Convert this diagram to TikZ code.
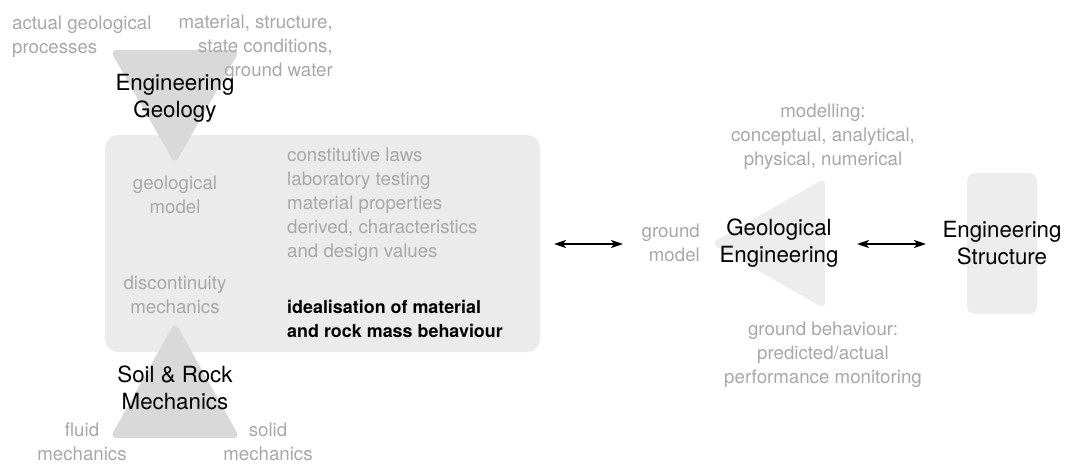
\documentclass[tikz,border=0pt]{standalone}
\usepackage{fontspec}
\setmainfont{TeX Gyre Heros}
\usetikzlibrary{arrows.meta}
\definecolor{boxgray}{HTML}{EBEBEB}
\definecolor{trigray}{HTML}{D9D9D9}
\definecolor{ltgray}{HTML}{EDEDED}
\definecolor{txtgray}{HTML}{A8A8A8}
\tikzset{
  lbl/.style={inner sep=0pt, text=txtgray, font=\fontsize{18.7}{24}\selectfont},
  ttl/.style={inner sep=0pt, text=black, font=\fontsize{22.3}{27}\selectfont, align=center},
  bld/.style={inner sep=0pt, text=black, font=\fontsize{17.9}{24}\selectfont\bfseries, align=left},
  arr/.style={{Stealth[length=12pt,width=8pt,inset=3pt]}-{Stealth[length=12pt,width=8pt,inset=3pt]}, line width=1.8pt, black},
}
\begin{document}
\begin{tikzpicture}[x=1pt,y=-1pt]
\useasboundingbox (0,0) rectangle (1072,466);
% main box
\node[fill=boxgray, rounded corners=13pt, minimum width=435pt, minimum height=217pt, inner sep=0pt] (box) at (322.5,243.5) {};
% triangles
\fill[trigray, rounded corners=7pt] (110,50) -- (240,50) -- (175,164) -- cycle;
\fill[trigray, rounded corners=7pt] (110,438) -- (240,438) -- (175,322) -- cycle;
\fill[ltgray, rounded corners=7pt] (825,178) -- (825,309) -- (711,243.5) -- cycle;
\node[fill=ltgray, rounded corners=8pt, minimum width=70pt, minimum height=141pt, inner sep=0pt] (sbox) at (1002,243.5) {};

% texts top-left
\node[lbl, anchor=west, align=left] (agp) at (12,37) {actual geological\\processes};
\node[lbl, anchor=east, align=right] (msc) at (333,48) {material, structure,\\state conditions,\\ground water};
\node[ttl] (eg) at (175,98) {Engineering\\Geology};
\node[lbl, align=center] (gm1) at (175,195) {geological\\model};
\node[lbl, align=center] (dm) at (175,295) {discontinuity\\mechanics};
\node[lbl, anchor=west, align=left] (list) at (287,205) {constitutive laws\\laboratory testing\\material properties\\derived, characteristics\\and design values};
\node[bld, anchor=west] (ideal) at (287,319) {idealisation of material\\and rock mass behaviour};
\node[ttl] (srm) at (175,388) {Soil \& Rock\\Mechanics};
\node[lbl, align=center] (fm) at (82,442) {fluid\\mechanics};
\node[lbl, align=center] (sm) at (268,442) {solid\\mechanics};

% right side texts
\node[lbl, align=center] (mod) at (823,137) {modelling:\\conceptual, analytical,\\physical, numerical};
\node[lbl, anchor=east, align=right] (gmod) at (700,243) {ground\\model};
\node[ttl] (ge) at (779,243) {Geological\\Engineering};
\node[ttl] (es) at (1002,243) {Engineering\\Structure};
\node[lbl, align=center] (gb) at (823,355) {ground behaviour:\\predicted/actual\\performance monitoring};

% arrows
\coordinate (a1) at (554,244);
\coordinate (a2) at (623,244);
\coordinate (b1) at (857,244);
\coordinate (b2) at (926,244);
\draw[arr] (a1) -- (a2);
\draw[arr] (b1) -- (b2);
\end{tikzpicture}
\end{document}
